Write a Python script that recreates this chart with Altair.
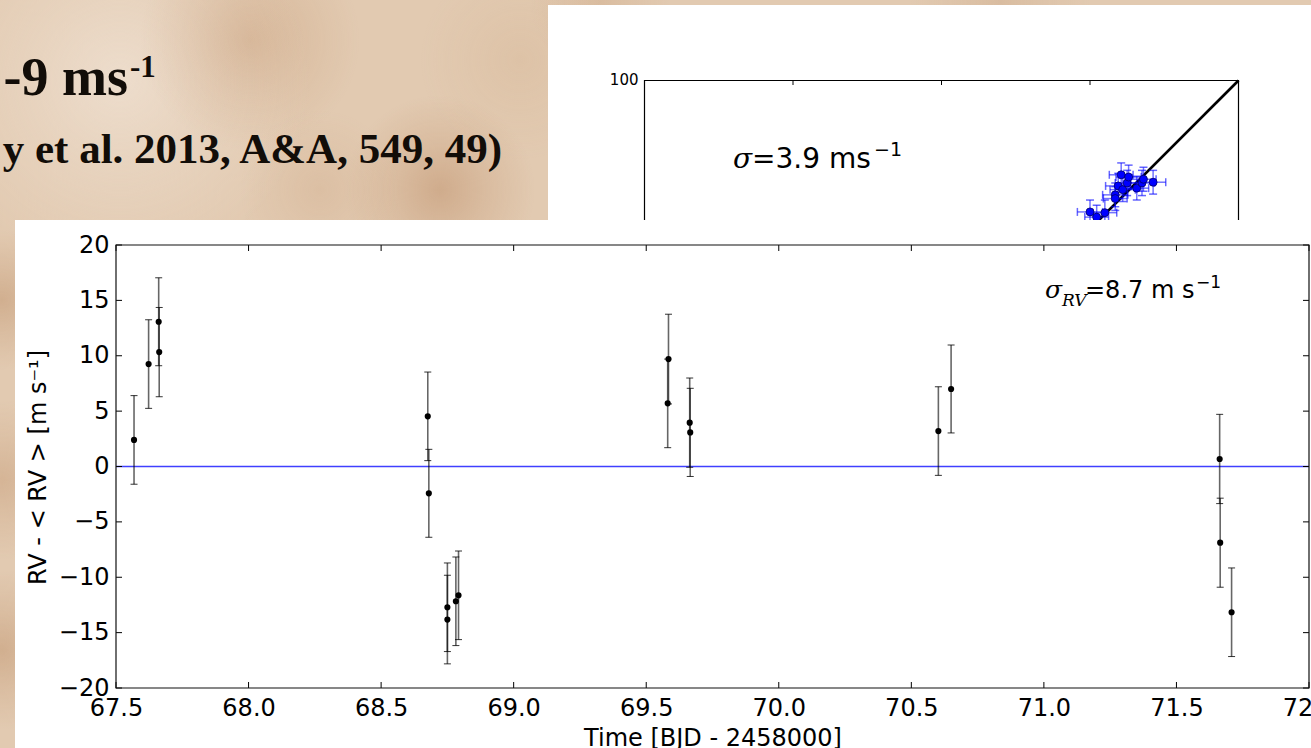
import altair as alt
import pandas as pd

# ---------------- main chart data ----------------
t = [67.568, 67.623, 67.661, 67.663, 68.676, 68.680, 68.750, 68.750, 68.782, 68.792,
     69.581, 69.584, 69.664, 69.666, 70.602, 70.650, 71.663, 71.665, 71.708]
rv = [2.40, 9.25, 13.07, 10.33, 4.53, -2.42, -12.71, -13.82, -12.17, -11.63,
      5.70, 9.70, 3.96, 3.08, 3.20, 7.00, 0.68, -6.88, -13.16]
err = [4.00, 4.00, 3.97, 4.03, 4.00, 3.97, 4.00, 4.00, 4.00, 4.00,
       4.00, 4.05, 4.03, 3.98, 4.00, 3.97, 4.03, 4.02, 4.00]
x_ticks = [67.5, 68.0, 68.5, 69.0, 69.5, 70.0, 70.5, 71.0, 71.5, 72.0]
y_ticks = [-20, -15, -10, -5, 0, 5, 10, 15, 20]

# ---------------- inset chart data ----------------
ix = [80.0, 80.9, 82.0, 83.4, 83.4, 83.8, 84.2, 84.4, 85.0, 85.2, 86.3, 87.0, 87.2, 88.5]
iy = [82.3, 81.6, 82.2, 84.6, 84.1, 85.8, 87.3, 85.3, 86.2, 87.0, 85.5, 86.2, 86.7, 86.3]
ixerr = [1.7, 1.6, 1.6, 1.7, 1.6, 1.7, 1.6, 1.7, 1.6, 1.7, 1.6, 1.7, 1.7, 1.7]
iyerr = [1.6, 1.6, 1.7, 1.6, 1.6, 1.7, 1.6, 1.6, 1.7, 1.6, 1.6, 1.7, 1.6, 1.6]
inset_ticks = [40, 60, 80]
inset_domain = [20, 100]

W, H = 1193, 443
FONT = "DejaVu Sans"

df = pd.DataFrame({"t": t, "rv": rv, "err": err})
df["lo"] = df["rv"] - df["err"]
df["hi"] = df["rv"] + df["err"]
xt = pd.DataFrame({"v": x_ticks})
yt = pd.DataFrame({"v": y_ticks})
one = pd.DataFrame({"k": [0]})

idf = pd.DataFrame({"x": ix, "y": iy, "ex": ixerr, "ey": iyerr})
idf["xlo"] = idf["x"] - idf["ex"]
idf["xhi"] = idf["x"] + idf["ex"]
idf["ylo"] = idf["y"] - idf["ey"]
idf["yhi"] = idf["y"] + idf["ey"]
itk = pd.DataFrame({"v": inset_ticks})

# ---------------- scales / axes ----------------
xs = alt.Scale(domain=[67.5, 72.0], nice=False, zero=False)
ys = alt.Scale(domain=[-20, 20], nice=False, zero=False)

x_axis = alt.Axis(values=x_ticks, format=".1f", title="Time [BJD - 2458000]",
                  labelFont=FONT, labelFontSize=24, labelColor="black",
                  titleFont=FONT, titleFontSize=24, titleFontWeight="normal", titleColor="black",
                  ticks=False, tickSize=0, domain=False, grid=False,
                  labelBaseline="alphabetic", labelPadding=27,
                  labelFlush=False, labelOverlap=False,
                  titleY=57, titleBaseline="alphabetic", zindex=1)
y_axis = alt.Axis(values=y_ticks, format="d", title="RV - < RV > [m s⁻¹]",
                  labelFont=FONT, labelFontSize=24, labelColor="black",
                  titleFont=FONT, titleFontSize=24, titleFontWeight="normal", titleColor="black",
                  ticks=False, tickSize=0, domain=False, grid=False,
                  labelPadding=7, labelFlush=False, labelOverlap=False,
                  titleX=-71, titleY=222, titleAngle=-90, titleAlign="center",
                  titleBaseline="alphabetic", zindex=1)


def X(f):
    return alt.X(f, type="quantitative", scale=xs, axis=x_axis)


def Y(f):
    return alt.Y(f, type="quantitative", scale=ys, axis=y_axis)


isx = alt.Scale(domain=inset_domain, range=[528.5, 1122.5], nice=False, zero=False)
isy = alt.Scale(domain=inset_domain, range=[429.5, -164.5], nice=False, zero=False)


def IX(f):
    return alt.X(f, type="quantitative", scale=isx, axis=None)


def IY(f):
    return alt.Y(f, type="quantitative", scale=isy, axis=None)


def IXd(v):
    return alt.X(datum=v, type="quantitative", scale=isx, axis=None)


def IYd(v):
    return alt.Y(datum=v, type="quantitative", scale=isy, axis=None)


def box(x0, y0, x1, y1, **kw):
    return alt.Chart(one).mark_rect(**kw).encode(
        x=alt.value(x0), x2=alt.value(x1), y=alt.value(y0), y2=alt.value(y1))


def blob(cx, cy, r, rgb, a):
    # square box so that the radial gradient fades out fully inside it
    grad = {"gradient": "radial",
            "stops": [{"offset": 0, "color": f"rgba({rgb},{a})"},
                      {"offset": 0.5, "color": f"rgba({rgb},{a * 0.45})"},
                      {"offset": 1, "color": f"rgba({rgb},0)"}]}
    return box(cx - r - 116, cy - r - 245, cx + r - 116, cy + r - 245, fill=grad)


def label(txt, x, y, size, font=FONT, style="normal", weight="normal", align="left"):
    return alt.Chart(one).mark_text(text=txt, font=font, fontSize=size, fontStyle=style,
                                    fontWeight=weight, align=align, baseline="alphabetic",
                                    color="black").encode(x=alt.value(x), y=alt.value(y))


# ---------------- slide background (parchment) ----------------
bg = [
    blob(120, 80, 190, "246,236,226", 0.55),
    blob(250, 40, 110, "180,125,80", 0.28),
    blob(440, 190, 95, "170,110,65", 0.33),
    blob(320, 190, 80, "190,140,100", 0.18),
    blob(520, 60, 100, "200,160,120", 0.18),
    blob(2, 300, 70, "175,120,75", 0.33),
    blob(2, 480, 80, "180,125,80", 0.28),
    blob(2, 650, 80, "175,120,75", 0.33),
    blob(600, 2, 70, "190,145,105", 0.25),
    blob(1000, 2, 90, "185,140,100", 0.22),
]
slide_text = [
    alt.Chart(one).mark_text(text="-9 ms", font="Liberation Serif", fontSize=54,
                             fontWeight="bold", align="right", baseline="alphabetic",
                             color="#120d08").encode(x=alt.value(12), y=alt.value(-150)),
    alt.Chart(one).mark_text(text="-1", font="Liberation Serif", fontSize=31,
                             fontWeight="bold", align="left", baseline="alphabetic",
                             color="#120d08").encode(x=alt.value(14), y=alt.value(-168)),
    alt.Chart(one).mark_text(text="y et al. 2013, A&A, 549, 49)", font="Liberation Serif",
                             fontSize=43, fontWeight="bold", align="right",
                             baseline="alphabetic", color="#120d08").encode(
        x=alt.value(386), y=alt.value(-82)),
]

# ---------------- inset chart ----------------
inset_panel = box(432, -240, 1195, -25, fill="white")
inset_frame = alt.Chart(one).mark_rect(fillOpacity=0, stroke="black", strokeWidth=1.2).encode(
    x=IXd(inset_domain[0]), x2=alt.X2(datum=inset_domain[1]),
    y=IYd(inset_domain[1]), y2=alt.Y2(datum=inset_domain[0]))
inset_diag = alt.Chart(one).mark_rule(color="black", strokeWidth=2.6).encode(
    x=IXd(inset_domain[0]), x2=alt.X2(datum=inset_domain[1]),
    y=IYd(inset_domain[0]), y2=alt.Y2(datum=inset_domain[1]))
inset_tk = alt.Chart(itk).mark_rule(color="black", strokeWidth=1).encode(
    x=IX("v"), y=alt.value(-164.5), y2=alt.value(-160))
inset_100 = alt.Chart(one).mark_text(text="100", font=FONT, fontSize=15, align="right",
                                     baseline="middle", dx=-6, dy=-1, color="black").encode(
    x=IXd(inset_domain[0]), y=IYd(inset_domain[1]))
inset_ex = alt.Chart(idf).mark_rule(color="blue", opacity=0.55, strokeWidth=1.5).encode(
    x=IX("xlo"), x2="xhi", y=IY("y"))
inset_ey = alt.Chart(idf).mark_rule(color="blue", opacity=0.55, strokeWidth=1.5).encode(
    x=IX("x"), y=IY("ylo"), y2="yhi")
cap_kw = dict(color="blue", opacity=0.6, size=8, thickness=1.5)
inset_cx1 = alt.Chart(idf).mark_tick(orient="vertical", **cap_kw).encode(x=IX("xlo"), y=IY("y"))
inset_cx2 = alt.Chart(idf).mark_tick(orient="vertical", **cap_kw).encode(x=IX("xhi"), y=IY("y"))
inset_cy1 = alt.Chart(idf).mark_tick(orient="horizontal", **cap_kw).encode(x=IX("x"), y=IY("ylo"))
inset_cy2 = alt.Chart(idf).mark_tick(orient="horizontal", **cap_kw).encode(x=IX("x"), y=IY("yhi"))
inset_pts = alt.Chart(idf).mark_point(filled=True, shape="circle", size=64, fill="blue",
                                      stroke="#000066", strokeWidth=0.8, opacity=1).encode(
    x=IX("x"), y=IY("y"))
inset_txt = [
    label("σ", 617, -77, 28, font="DejaVu Serif", style="italic"),
    label("=3.9 ms", 636, -77, 28),
    label("−1", 758, -89, 19),
]

inset = alt.layer(*bg, *slide_text, inset_panel, inset_diag, inset_frame, inset_tk,
                  inset_100, inset_ex, inset_ey, inset_cx1, inset_cx2, inset_cy1,
                  inset_cy2, inset_pts, *inset_txt)

# ---------------- main chart ----------------
main_panel = box(-101, -25, 1195, 503, fill="white")
zero = alt.Chart(one).mark_rule(color="blue", strokeWidth=1.6, opacity=0.75).encode(
    y=alt.Y(datum=0, type="quantitative", scale=ys, axis=y_axis))
bars = alt.Chart(df).mark_rule(color="black", opacity=0.6, strokeWidth=1.6).encode(
    x=X("t"), y=Y("lo"), y2="hi")
cap_lo = alt.Chart(df).mark_tick(color="black", opacity=0.8, orient="horizontal", size=7,
                                 thickness=1).encode(x=X("t"), y=Y("lo"))
cap_hi = alt.Chart(df).mark_tick(color="black", opacity=0.8, orient="horizontal", size=7,
                                 thickness=1).encode(x=X("t"), y=Y("hi"))
pts = alt.Chart(df).mark_circle(color="black", size=38, opacity=1).encode(
    x=X("t"), y=Y("rv"))
tk_b = alt.Chart(xt).mark_rule(color="black", strokeWidth=1).encode(
    x=X("v"), y=alt.value(H), y2=alt.value(H - 6))
tk_t = alt.Chart(xt).mark_rule(color="black", strokeWidth=1).encode(
    x=X("v"), y=alt.value(0), y2=alt.value(6))
tk_l = alt.Chart(yt).mark_rule(color="black", strokeWidth=1).encode(
    y=Y("v"), x=alt.value(0), x2=alt.value(6))
tk_r = alt.Chart(yt).mark_rule(color="black", strokeWidth=1).encode(
    y=Y("v"), x=alt.value(W), x2=alt.value(W - 6))
frame = box(0, 0, W, H, fillOpacity=0, stroke="#111111", strokeWidth=1.2)
ann = [
    label("σ", 929, 53, 25, font="DejaVu Serif", style="italic"),
    label("RV", 946, 61, 17, font="DejaVu Serif", style="italic"),
    label("=8.7 m s", 969, 53, 24),
    label("−1", 1080, 43, 17),
]

main = alt.layer(main_panel, zero, bars, cap_lo, cap_hi, pts, tk_b, tk_t, tk_l, tk_r,
                 frame, *ann)

chart = alt.layer(inset, main).resolve_scale(
    x="independent", y="independent"
).properties(
    width=W, height=H,
    autosize=alt.AutoSizeParams(type="none"),
    padding={"left": 116, "top": 245, "right": 2, "bottom": 60},
).configure(background="#e2cab1").configure_view(strokeWidth=0, fill=None)

chart.save("out.html", embed_options={"renderer": "svg", "actions": False})
